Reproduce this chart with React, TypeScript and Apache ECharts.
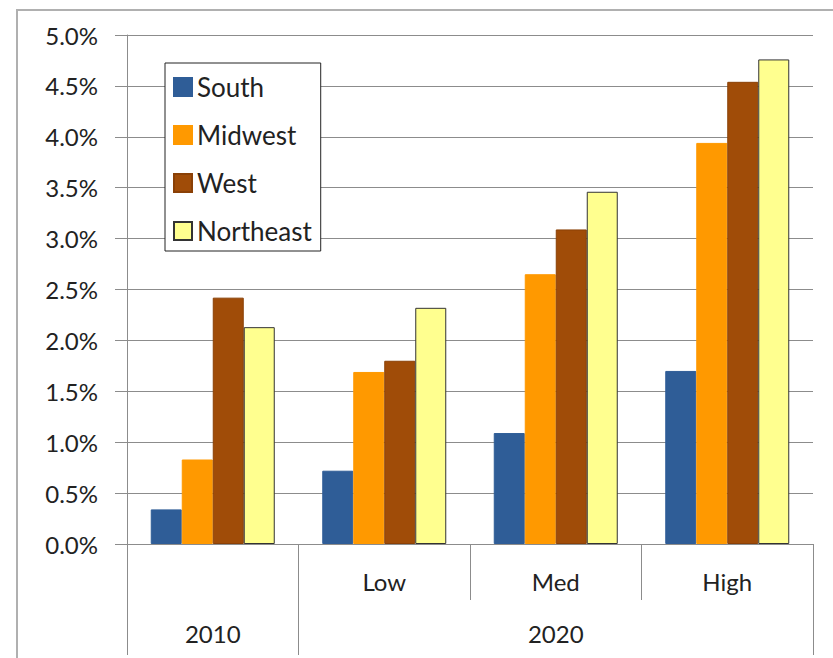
import React, { useEffect, useRef } from "react";
import * as echarts from "echarts";

const categories = ["", "Low", "Med", "High"];
const periods = ["2010", "", "2020", ""];
const seriesNames = ["South", "Midwest", "West", "Northeast"];
const south = [0.34, 0.72, 1.09, 1.7];
const midwest = [0.83, 1.69, 2.65, 3.94];
const west = [2.42, 1.8, 3.09, 4.54];
const northeast = [2.13, 2.32, 3.46, 4.76];
const colors = ["#2F5D97", "#FF9900", "#A04C08", "#FFFF8F"];
const borders = ["#2F5D97", "#FF9900", "#8A4006", "#333333"];

const FONT = "Lato";
const TEXT = "#222222";
const LINE = "#8c8c8c";

export default function App() {
  const ref = useRef<HTMLDivElement>(null);
  useEffect(() => {
    if (!ref.current) return;
    const chart = echarts.init(ref.current, null, { renderer: "svg" });
    const values = [south, midwest, west, northeast];
    chart.setOption({
      animation: false,
      backgroundColor: "#ffffff",
      textStyle: { fontFamily: FONT },
      graphic: [
        {
          type: "rect",
          shape: { x: 17, y: 10, width: 840, height: 680 },
          style: { fill: "none", stroke: "#b0b0b0", lineWidth: 2 },
          silent: true,
        },
      ],
      legend: {
        orient: "vertical",
        left: 165,
        top: 63,
        padding: [11, 9, 7, 8],
        itemWidth: 18,
        itemHeight: 18,
        itemGap: 22,
        icon: "rect",
        backgroundColor: "#ffffff",
        borderColor: "#222222",
        borderWidth: 1,
        textStyle: { fontFamily: FONT, fontSize: 26, color: TEXT },
        data: seriesNames,
      },
      grid: { left: 127, right: 20, top: 35, bottom: 114, containLabel: false },
      xAxis: [
        {
          type: "category",
          data: categories,
          position: "bottom",
          axisLine: { show: true, lineStyle: { color: LINE, width: 1 } },
          axisTick: { show: true, interval: 0, length: 56, lineStyle: { color: LINE } },
          axisLabel: { interval: 0, margin: 25, fontSize: 24, color: TEXT, fontFamily: FONT },
          splitLine: { show: false },
        },
        {
          type: "category",
          data: periods,
          position: "bottom",
          offset: 0,
          axisLine: { show: false },
          axisTick: {
            show: true,
            interval: (idx: number) => idx === 0 || idx === 1,
            length: 111,
            lineStyle: { color: LINE },
          },
          axisLabel: { interval: 0, margin: 77, fontSize: 24, color: TEXT, fontFamily: FONT },
          splitLine: { show: false },
        },
      ],
      yAxis: {
        type: "value",
        min: 0,
        max: 5,
        interval: 0.5,
        axisLine: { show: true, lineStyle: { color: LINE, width: 1 } },
        axisTick: { show: true, length: 12, lineStyle: { color: LINE } },
        axisLabel: {
          margin: 29,
          fontSize: 24,
          color: TEXT,
          fontFamily: FONT,
          formatter: (v: number) => `${v.toFixed(1)}%`,
        },
        splitLine: { show: true, lineStyle: { color: LINE, width: 1 } },
      },
      series: seriesNames.map((name, i) => ({
        name,
        type: "bar",
        xAxisIndex: 0,
        data: values[i],
        barWidth: 31,
        barGap: "0%",
        itemStyle: { color: colors[i], borderColor: borders[i], borderWidth: 1 },
      })),
    });
    return () => chart.dispose();
  }, []);
  return (
    <div
      ref={ref}
      style={{ position: "fixed", left: 0, top: 0, width: 833, height: 658 }}
    />
  );
}
